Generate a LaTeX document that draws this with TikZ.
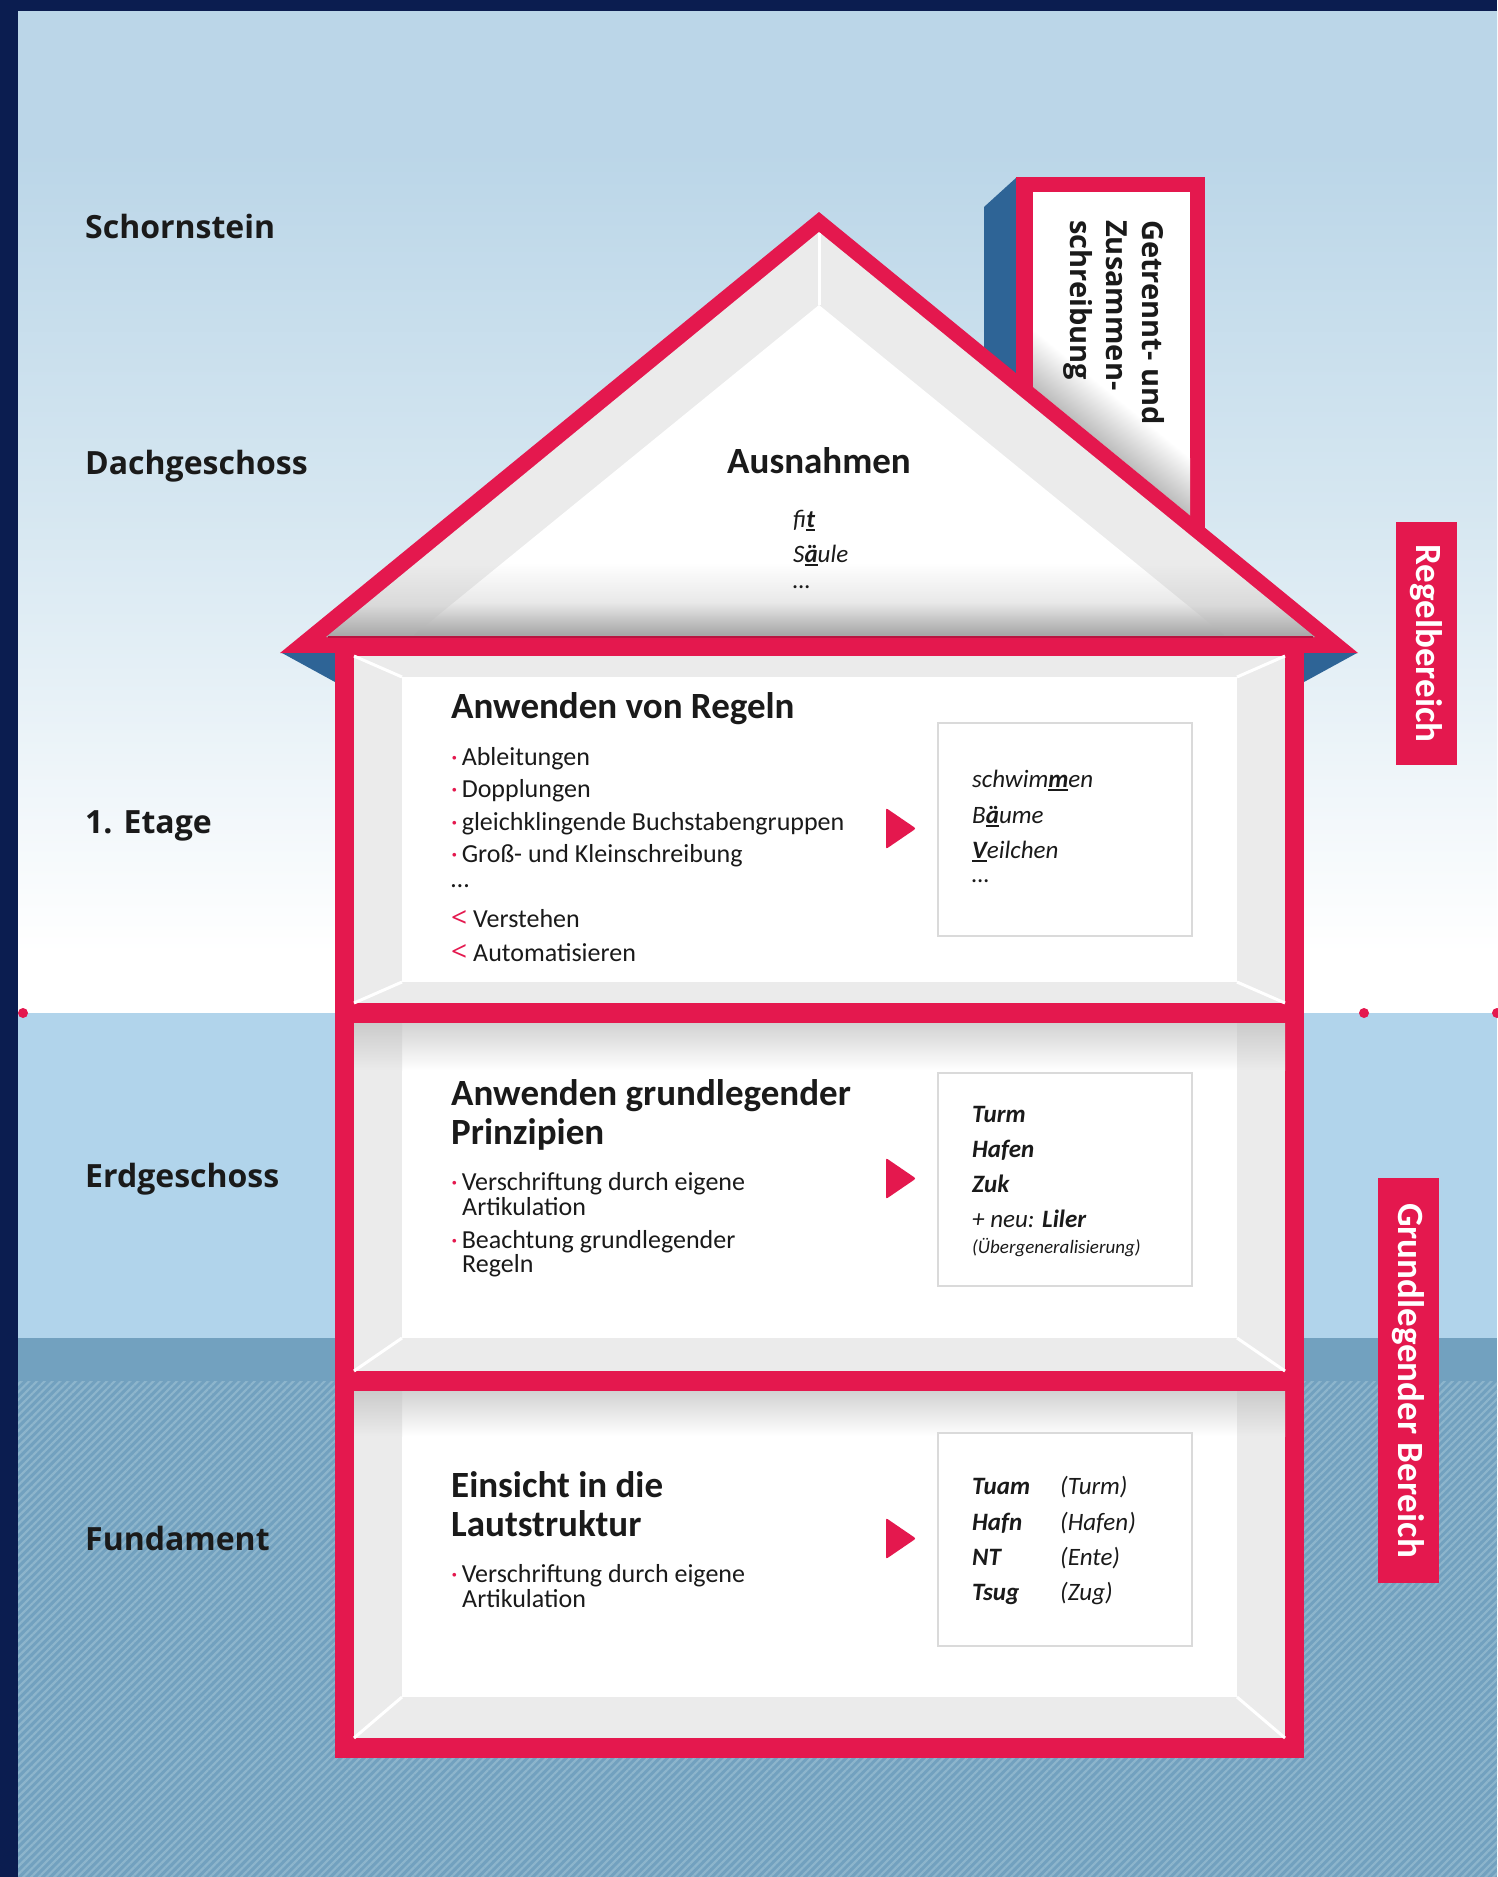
\documentclass[tikz,border=0pt]{standalone}
\usepackage{fontspec}
\setmainfont{Carlito}
\newfontfamily\labfont{Open Sans}
\usetikzlibrary{patterns.meta}
\definecolor{brand}{HTML}{E4184E}
\definecolor{branddark}{HTML}{B81540}
\definecolor{navy}{HTML}{0B1D50}
\definecolor{eave}{HTML}{2E6496}
\definecolor{skytop}{HTML}{BBD6E8}
\definecolor{skymid}{HTML}{D6E7F1}
\definecolor{ground}{HTML}{B1D4EB}
\definecolor{soil}{HTML}{72A1BF}
\definecolor{soilhatch}{HTML}{8DB5CC}
\definecolor{wallgrey}{HTML}{EBEBEB}
\definecolor{roofshadow}{HTML}{A6A6A6}
\definecolor{shadowtop}{HTML}{D2D2D2}
\definecolor{shadowside}{HTML}{CBCBCB}
\definecolor{chimshadow}{HTML}{BDBDBD}
\definecolor{ink}{HTML}{1A1A1A}
\definecolor{boxline}{HTML}{DADADA}
\pgfdeclareverticalshading{skyshade}{100bp}{color(0bp)=(white); color(25bp)=(white); color(28bp)=(white); color(50bp)=(skymid); color(68bp)=(skytop); color(100bp)=(skytop)}
\pgfdeclareverticalshading{roofin}{100bp}{color(0bp)=(roofshadow); color(25bp)=(roofshadow); color(30bp)=(white!75!roofshadow); color(36bp)=(white); color(100bp)=(white)}
\pgfdeclareverticalshading{roofout}{100bp}{color(0bp)=(roofshadow); color(25bp)=(roofshadow); color(29bp)=(wallgrey!75!roofshadow); color(34bp)=(wallgrey); color(100bp)=(wallgrey)}
\newcommand\ubf[1]{\setbox0=\hbox{\bfseries #1}\rlap{\rule[-3.5pt]{\wd0}{2pt}}\box0}
\newcommand\bul{\textcolor{brand}{·}\hspace{4pt}}
\newcommand\lt{\textcolor{brand}{\labfont\fontsize{28}{30}\selectfont <}\hspace{6pt}}
\begin{document}
\begin{tikzpicture}[x=1pt,y=-1pt,
 lab/.style={font=\labfont\bfseries\fontsize{32}{38}\selectfont, text=ink, anchor=base west, inner sep=0pt},
 ttl/.style={font=\bfseries\fontsize{37}{40}\selectfont, text=ink, anchor=base west, inner sep=0pt},
 itm/.style={font=\fontsize{26}{30}\selectfont, text=ink, anchor=base west, inner sep=0pt},
 exm/.style={font=\itshape\fontsize{25}{30}\selectfont, text=ink, anchor=base west, inner sep=0pt},
 exb/.style={exm, font=\bfseries\itshape\fontsize{25}{30}\selectfont},
 exs/.style={exm, font=\itshape\fontsize{19}{22}\selectfont},
 exbox/.style={draw=boxline, fill=white, line width=1.5pt, inner sep=0pt, anchor=north west, minimum width=254pt},
 tag/.style={rotate=-90, fill=brand, text=white, font=\bfseries\fontsize{37}{40}\selectfont, inner sep=0pt, minimum height=61pt},
 chim/.style={rotate=-90, anchor=north west, align=left, inner sep=0pt, text=ink, font=\labfont\bfseries\fontsize{29}{36}\selectfont},
 pointer/.style={fill=brand, rounded corners=2pt},
 wline/.style={white, line width=3pt},
 dot/.style={fill=brand}
]
\useasboundingbox (0,0) rectangle (1497,1877);
% ---------- background ----------
\fill[navy] (0,0) rectangle (1497,11);
\fill[navy] (0,0) rectangle (18,1877);
\shade[shading=skyshade] (18,11) rectangle (1497,1013);
\fill[ground] (18,1013) rectangle (1497,1338);
\fill[soil] (18,1338) rectangle (1497,1877);
\fill[pattern={Lines[angle=45,distance=5.5pt,line width=2.2pt]}, pattern color=soilhatch] (18,1381) rectangle (1497,1877);
\fill[dot] (23,1013) circle[radius=5pt];
\fill[dot] (1364,1013) circle[radius=5pt];
\fill[dot] (1497,1013) circle[radius=5pt];
% ---------- chimney ----------
\fill[eave] (984,207) -- (1017,177) -- (1017,600) -- (984,600) -- cycle;
\fill[brand] (1016,177) rectangle (1205,600);
\fill[white] (1033,192) rectangle (1190,600);
\begin{scope}
 \clip (1033,192) rectangle (1190,600);
 \begin{scope}[transform canvas={shift={(819,212)},rotate=-39.3}]
  \shade[top color=white, bottom color=chimshadow] (0,-45) rectangle (700,0);
 \end{scope}
\end{scope}
\node[chim] (chimtxt) at (1165,220) {Getrennt- und\\Zusammen-\\schreibung};
% ---------- roof ----------
\fill[brand] (819,212) -- (1358,653) -- (280,653) -- cycle;
\shade[shading=roofout] (819,232) -- (1315,637) -- (326,637) -- cycle;
\shade[shading=roofin] (819,305) -- (1224,635) -- (414,635) -- cycle;
\draw[branddark, line width=2pt] (328,637) -- (1313,637);
\draw[wline] (819,233) -- (819,305);
\fill[eave] (282,653) -- (335,653) -- (335,682) -- cycle;
\fill[eave] (1304,653) -- (1357,653) -- (1304,682) -- cycle;
\node[ttl, anchor=base] (ausn) at (819,473) {Ausnahmen};
\node[exm] (fit) at (793,527) {fi\ubf{t}};
\node[exm] (saeule) at (793,562) {S\ubf{ä}ule};
\node[exm] (rdots) at (793,588) {…};
% ---------- house body ----------
\fill[brand] (335,639) rectangle (1304,1758);
% floor 1
\fill[wallgrey] (354,656) rectangle (1285,1003);
\fill[white] (402,677) rectangle (1237,982);
\draw[wline] (354,656) -- (402,677) (1285,656) -- (1237,677) (354,1003) -- (402,982) (1285,1003) -- (1237,982);
% floor 2
\fill[wallgrey] (354,1023) rectangle (1285,1371);
\fill[white] (402,1023) rectangle (1237,1338);
\shade[top color=shadowtop, bottom color=white] (402,1023) rectangle (1237,1070);
\shade[top color=shadowside, bottom color=wallgrey] (354,1023) rectangle (402,1070);
\shade[top color=shadowside, bottom color=wallgrey] (1237,1023) rectangle (1285,1070);
\draw[wline] (354,1371) -- (402,1338) (1285,1371) -- (1237,1338);
% floor 3
\fill[wallgrey] (354,1391) rectangle (1285,1738);
\fill[white] (402,1391) rectangle (1237,1697);
\shade[top color=shadowtop, bottom color=white] (402,1391) rectangle (1237,1436);
\shade[top color=shadowside, bottom color=wallgrey] (354,1391) rectangle (402,1436);
\shade[top color=shadowside, bottom color=wallgrey] (1237,1391) rectangle (1285,1436);
\draw[wline] (354,1738) -- (402,1697) (1285,1738) -- (1237,1697);
% ---------- left labels ----------
\node[lab] (lschorn) at (85,238) {Schornstein};
\node[lab] (ldach) at (85,474) {Dachgeschoss};
\node[lab] (letage) at (85,833) {1. Etage};
\node[lab] (lerd) at (85,1187) {Erdgeschoss};
\node[lab] (lfund) at (85,1550) {Fundament};
% ---------- floor 1 content ----------
\node[ttl] (t1) at (451,718) {Anwenden von Regeln};
\node[itm] (i1a) at (451,765) {\bul Ableitungen};
\node[itm] (i1b) at (451,797) {\bul Dopplungen};
\node[itm] (i1c) at (451,830) {\bul gleichklingende Buchstabengruppen};
\node[itm] (i1d) at (451,862) {\bul Groß- und Kleinschreibung};
\node[itm] (i1e) at (451,887) {…};
\node[itm] (i1f) at (451,927) {\lt Verstehen};
\node[itm] (i1g) at (451,961) {\lt Automatisieren};
\fill[pointer] (886,808) -- (916,828.5) -- (886,849) -- cycle;
\node[exbox, minimum height=213pt] (box1) at (937,722) {};
\node[exm] (e1a) at (972,787) {schwim\ubf{m}en};
\node[exm] (e1b) at (972,823) {B\ubf{ä}ume};
\node[exm] (e1c) at (972,858) {\ubf{V}eilchen};
\node[exm] (e1d) at (972,882) {…};
% ---------- floor 2 content ----------
\node[ttl] (t2a) at (451,1105) {Anwenden grundlegender};
\node[ttl] (t2b) at (451,1144) {Prinzipien};
\node[itm] (i2a) at (451,1190) {\bul Verschriftung durch eigene};
\node[itm] (i2b) at (462,1215) {Artikulation};
\node[itm] (i2c) at (451,1248) {\bul Beachtung grundlegender};
\node[itm] (i2d) at (462,1272) {Regeln};
\fill[pointer] (886,1158) -- (916,1178.5) -- (886,1199) -- cycle;
\node[exbox, minimum height=213pt] (box2) at (937,1072) {};
\node[exb] (e2a) at (972,1122) {Turm};
\node[exb] (e2b) at (972,1157) {Hafen};
\node[exb] (e2c) at (972,1192) {Zuk};
\node[exm] (e2d) at (972,1227) {+ neu: \textbf{Liler}};
\node[exs] (e2e) at (972,1253) {(Übergeneralisierung)};
% ---------- floor 3 content ----------
\node[ttl] (t3a) at (451,1497) {Einsicht in die};
\node[ttl] (t3b) at (451,1536) {Lautstruktur};
\node[itm] (i3a) at (451,1582) {\bul Verschriftung durch eigene};
\node[itm] (i3b) at (462,1607) {Artikulation};
\fill[pointer] (886,1518) -- (916,1538.5) -- (886,1559) -- cycle;
\node[exbox, minimum height=213pt] (box3) at (937,1432) {};
\node[exb] (e3a) at (972,1494) {Tuam};
\node[exm] (e3a2) at (1060,1494) {(Turm)};
\node[exb] (e3b) at (972,1530) {Hafn};
\node[exm] (e3b2) at (1060,1530) {(Hafen)};
\node[exb] (e3c) at (972,1565) {NT};
\node[exm] (e3c2) at (1060,1565) {(Ente)};
\node[exb] (e3d) at (972,1600) {Tsug};
\node[exm] (e3d2) at (1060,1600) {(Zug)};
% ---------- right tags ----------
\node[tag, minimum width=243pt] (regel) at (1426.5,643.5) {Regelbereich};
\node[tag, minimum width=405pt] (grund) at (1408.5,1380.5) {Grundlegender Bereich};
\end{tikzpicture}
\end{document}
